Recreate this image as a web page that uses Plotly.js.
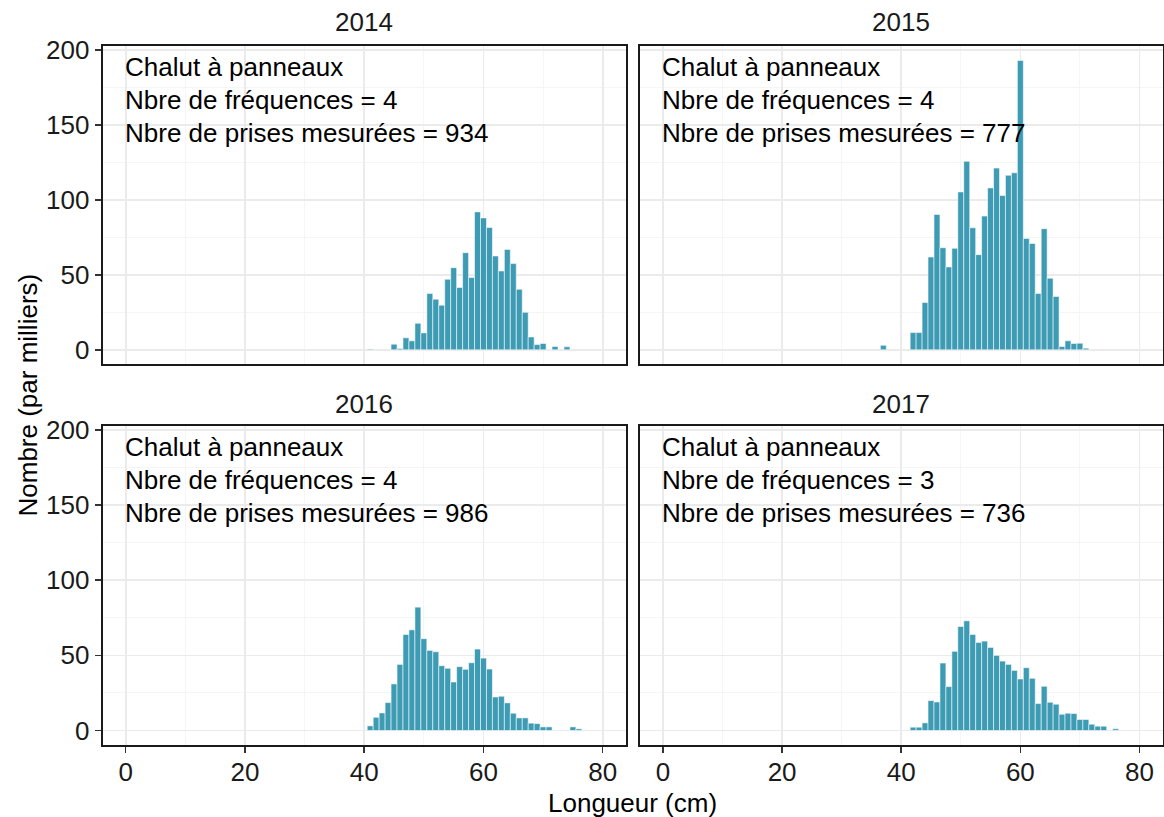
<!DOCTYPE html>
<html>
<head>
<meta charset="utf-8">
<script src="https://cdn.plot.ly/plotly-3.0.1.min.js"></script>
<style>html,body{margin:0;padding:0;background:#fff;}#chart{width:1164px;height:817px;}</style>
</head>
<body>
<div id="chart"></div>
<script>
// Years (facets)
const years = ["2014", "2015", "2016", "2017"];
const gearLabel = "Chalut à panneaux";
const nFreq = [4, 4, 4, 3];
const nMeasured = [934, 777, 986, 736];

// Length (cm) and number (thousands) per year
const len2014 = [41, 45, 46, 47, 48, 49, 50, 51, 52, 53, 54, 55, 56, 57, 58, 59, 60, 61, 62, 63, 64, 65, 66, 67, 68, 69, 70, 71, 72, 74];
const val2014 = [0.5, 3.8, 0.9, 8.0, 6.0, 17.7, 11.3, 37.6, 33.8, 29.8, 47.1, 54.8, 41.6, 64.8, 48.2, 92.0, 88.0, 81.6, 62.6, 52.6, 67.0, 57.5, 40.4, 25.0, 8.6, 3.5, 4.2, 0.3, 2.2, 2.0];

const len2015 = [37, 42, 43, 44, 45, 46, 47, 48, 49, 50, 51, 52, 53, 54, 55, 56, 57, 58, 59, 60, 61, 62, 63, 64, 65, 66, 67, 68, 69, 70, 71];
const val2015 = [3.0, 11.5, 11.5, 31.6, 61.9, 90.3, 68.1, 55.3, 67.7, 105.3, 125.7, 81.4, 63.5, 89.2, 108.0, 121.2, 102.9, 116.4, 118.1, 193.0, 74.3, 71.0, 37.6, 80.8, 47.8, 35.6, 2.2, 6.0, 4.2, 4.4, 1.1];

const len2016 = [41, 42, 43, 44, 45, 46, 47, 48, 49, 50, 51, 52, 53, 54, 55, 56, 57, 58, 59, 60, 61, 62, 63, 64, 65, 66, 67, 68, 69, 70, 71, 75, 76];
const val2016 = [3.1, 8.8, 11.7, 18.6, 31.0, 44.0, 63.9, 67.0, 82.1, 61.1, 53.3, 52.4, 43.1, 41.4, 32.3, 42.5, 40.7, 45.1, 54.2, 48.2, 40.9, 22.3, 22.8, 18.4, 11.5, 8.4, 8.4, 4.9, 4.6, 2.4, 2.4, 2.4, 1.1];

const len2017 = [42, 43, 44, 45, 46, 47, 48, 49, 50, 51, 52, 53, 54, 55, 56, 57, 58, 59, 60, 61, 62, 63, 64, 65, 66, 67, 68, 69, 70, 71, 72, 73, 74, 76];
const val2017 = [2.2, 2.2, 5.1, 19.9, 19.0, 44.9, 29.2, 52.7, 69.2, 73.0, 63.9, 58.6, 59.5, 55.3, 50.0, 46.2, 44.0, 40.0, 34.3, 41.8, 34.7, 17.9, 29.4, 18.8, 17.5, 10.8, 11.5, 11.3, 7.3, 7.3, 4.2, 2.9, 2.9, 1.1];

const xTicks = [0, 20, 40, 60, 80];
const yTicks = [0, 50, 100, 150, 200];

const lens = [len2014, len2015, len2016, len2017];
const vals = [val2014, val2015, val2016, val2017];

const FONT = "Liberation Sans, Arial, sans-serif";
const FS = 26;
const BAR = "#3e9bb4";
const axSuffix = ["", "2", "3", "4"];

const traces = years.map((y, i) => ({
  type: "bar",
  x: lens[i],
  y: vals[i],
  width: 1,
  xaxis: "x" + axSuffix[i],
  yaxis: "y" + axSuffix[i],
  marker: {color: BAR, line: {color: "rgba(255,255,255,0.55)", width: 1}},
  hoverinfo: "x+y",
  showlegend: false
}));

const W = 1164, H = 817;
const colDom = [[102.7 / W, 626 / W], [640 / W, 1162.7 / W]];
const rowDom = [[1 - 364.3 / H, 1 - 46 / H], [1 - 745 / H, 1 - 426 / H]];
const xRange = [-3.86, 83.9];
const yRange = [-9.65, 202.65];

const layout = {
  width: W, height: H,
  margin: {l: 0, r: 0, t: 0, b: 0},
  paper_bgcolor: "#fff",
  plot_bgcolor: "#fff",
  bargap: 0,
  font: {family: FONT, size: FS, color: "#000"},
  annotations: []
};

for (let i = 0; i < 4; i++) {
  const col = i % 2, row = Math.floor(i / 2);
  const xs = axSuffix[i];
  const bottom = row === 1, left = col === 0;
  layout["xaxis" + xs] = {
    domain: colDom[col], anchor: "y" + xs, range: xRange,
    tickvals: xTicks, ticktext: xTicks.map(String),
    showticklabels: bottom, ticks: bottom ? "outside" : "", ticklen: 6, tickwidth: 1.5, tickcolor: "#333",
    ticklabelstandoff: -3,
    tickfont: {family: FONT, size: FS, color: "#1a1a1a"},
    showgrid: true, gridcolor: "#ebebeb", gridwidth: 1.6,
    minor: {dtick: 10, tick0: 0, showgrid: true, gridcolor: "#f4f4f4", gridwidth: 0.9, ticks: ""},
    showline: true, mirror: true, linecolor: "#1a1a1a", linewidth: 2,
    zeroline: false, fixedrange: true
  };
  layout["yaxis" + xs] = {
    domain: rowDom[row], anchor: "x" + xs, range: yRange,
    tickvals: yTicks, ticktext: yTicks.map(String),
    showticklabels: left, ticks: left ? "outside" : "", ticklen: 6, tickwidth: 1.5, tickcolor: "#333",
    tickfont: {family: FONT, size: FS, color: "#1a1a1a"},
    showgrid: true, gridcolor: "#ebebeb", gridwidth: 1.6,
    minor: {dtick: 25, tick0: 0, showgrid: true, gridcolor: "#f4f4f4", gridwidth: 0.9, ticks: ""},
    showline: true, mirror: true, linecolor: "#1a1a1a", linewidth: 2,
    zeroline: false, fixedrange: true
  };
  // strip title
  layout.annotations.push({
    text: years[i], xref: "paper", yref: "paper",
    x: (colDom[col][0] + colDom[col][1]) / 2,
    y: row === 0 ? 1 - 22 / H : 1 - 404 / H,
    xanchor: "center", yanchor: "middle", showarrow: false,
    font: {family: FONT, size: FS, color: "#1a1a1a"}
  });
  // info text
  const lines = [gearLabel, "Nbre de fréquences = " + nFreq[i], "Nbre de prises mesurées = " + nMeasured[i]];
  const ys = [188.5, 166.5, 144.5];
  lines.forEach((t, k) => {
    layout.annotations.push({
      text: t, xref: "x" + xs, yref: "y" + xs, x: -0.5, y: ys[k],
      xanchor: "left", yanchor: "middle", showarrow: false,
      font: {family: FONT, size: FS, color: "#000"}
    });
  });
}

layout.annotations.push({
  text: "Nombre (par milliers)", xref: "paper", yref: "paper",
  x: 27 / W, y: 1 - 395.5 / H, xanchor: "center", yanchor: "middle",
  textangle: -90, showarrow: false, font: {family: FONT, size: FS, color: "#000"}
});
layout.annotations.push({
  text: "Longueur (cm)", xref: "paper", yref: "paper",
  x: 632.7 / W, y: 1 - 803 / H, xanchor: "center", yanchor: "middle",
  showarrow: false, font: {family: FONT, size: FS, color: "#000"}
});

Plotly.newPlot("chart", traces, layout, {displayModeBar: false, staticPlot: true});
</script>
</body>
</html>
